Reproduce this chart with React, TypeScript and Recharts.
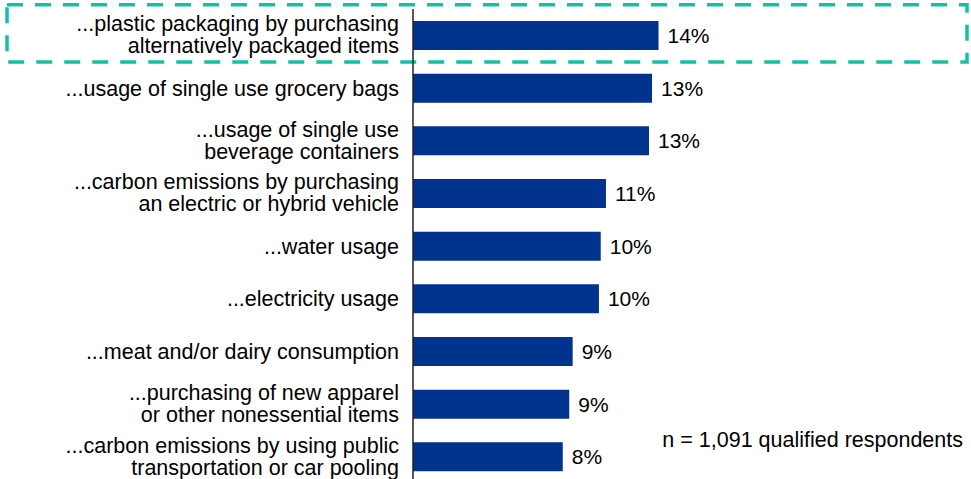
import React from "react";
import { BarChart, Bar, XAxis, YAxis, LabelList, ReferenceArea } from "recharts";

const categories = [
  "...plastic packaging by purchasing\nalternatively packaged items",
  "...usage of single use grocery bags",
  "...usage of single use\nbeverage containers",
  "...carbon emissions by purchasing\nan electric or hybrid vehicle",
  "...water usage",
  "...electricity usage",
  "...meat and/or dairy consumption",
  "...purchasing of new apparel\nor other nonessential items",
  "...carbon emissions by using public\ntransportation or car pooling",
];

const values = [13.64, 13.28, 13.11, 10.72, 10.43, 10.33, 8.87, 8.68, 8.32];

const noteText = "n = 1,091 qualified respondents";
const highlighted = categories[0];

const data = categories.map((c, i) => ({ cat: c, value: values[i] }));

const FONT = "'Liberation Sans', Arial, Helvetica, sans-serif";
const FS = 21.5;
const BAR_COLOR = "#00338D";
const TEAL = "#14C0A5";

const Tick = (props: any) => {
  const { x, y, payload } = props;
  const lines: string[] = String(payload.value).split("\n");
  const first = lines.length === 1 ? 7.5 : -4;
  return (
    <text x={x} y={y} textAnchor="end" fontSize={FS} fill="#000" fontFamily={FONT}>
      {lines.map((l, i) => (
        <tspan key={i} x={x} dy={i === 0 ? first : 22}>
          {l}
        </tspan>
      ))}
    </text>
  );
};

const ValueLabel = (props: any) => {
  const { x, y, width, height, value } = props;
  return (
    <text
      x={Number(x) + Number(width) + 9}
      y={Number(y) + Number(height) / 2 + 7.5}
      fontSize={21}
      fill="#000"
      fontFamily={FONT}
      textAnchor="start"
    >
      {Math.round(Number(value)) + "%"}
    </text>
  );
};

const BoxShape = (props: any) => {
  const { y, height } = props;
  const top = Number(y) - 4.3;
  const bottom = Number(y) + Number(height) + 0.3;
  return (
    <rect
      x={7}
      y={top}
      width={960}
      height={bottom - top}
      fill="none"
      stroke={TEAL}
      strokeWidth={3.5}
      strokeDasharray="16 12"
    />
  );
};

export default function App() {
  return (
    <div
      style={{
        position: "absolute",
        left: 0,
        top: 0,
        width: 971,
        height: 479,
        overflow: "hidden",
        background: "#fff",
      }}
    >
      <BarChart
        layout="vertical"
        width={971}
        height={484}
        data={data}
        margin={{ top: 9, right: 18, bottom: 1, left: 0 }}
        barCategoryGap={0}
      >
        <XAxis type="number" domain={[0, 30]} hide />
        <YAxis
          type="category"
          dataKey="cat"
          width={413}
          tickSize={0}
          tickMargin={14}
          tick={<Tick />}
          axisLine={{ stroke: "#222", strokeWidth: 1.5 }}
          tickLine={false}
          interval={0}
        />
        <Bar dataKey="value" fill={BAR_COLOR} barSize={29} isAnimationActive={false}>
          <LabelList dataKey="value" content={<ValueLabel />} />
        </Bar>
        <ReferenceArea
          y1={highlighted}
          y2={highlighted}
          ifOverflow="visible"
          shape={<BoxShape />}
        />
      </BarChart>
      <svg
        width={971}
        height={479}
        style={{ position: "absolute", left: 0, top: 0, pointerEvents: "none" }}
      >
        <text x={963} y={446.5} textAnchor="end" fontSize={FS} fill="#000" fontFamily={FONT}>
          {noteText}
        </text>
      </svg>
    </div>
  );
}
